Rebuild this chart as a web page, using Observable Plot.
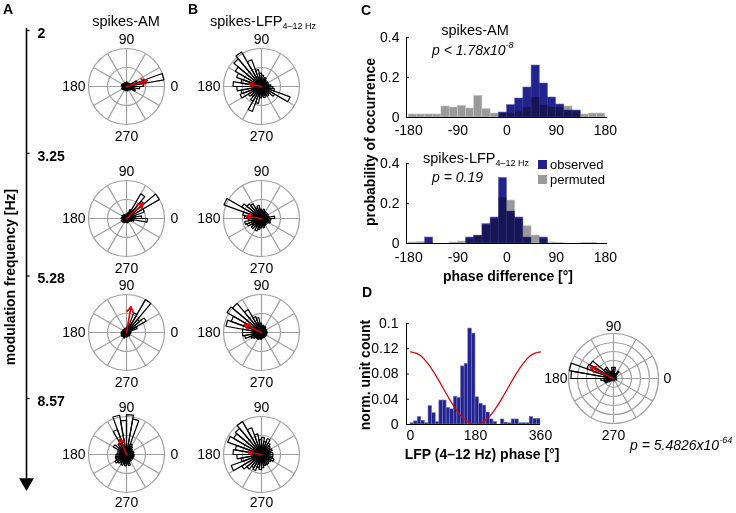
<!DOCTYPE html>
<html>
<head>
<meta charset="utf-8">
<script src="https://cdn.jsdelivr.net/npm/d3@7"></script>
<script src="https://cdn.jsdelivr.net/npm/@observablehq/plot@0.6"></script>
<style>
html,body{margin:0;padding:0;background:#fff;}
#fig{position:relative;width:736px;height:513px;overflow:hidden;background:#fff;}
#fig svg{position:absolute;overflow:visible;background:transparent;max-width:none;}
</style>
</head>
<body>
<div id="fig"></div>
<script>
// ================= DATA =================
const freqLabels = ["2", "3.25", "5.28", "8.57"];
const freqValues = [2, 3.25, 5.28, 8.57];
const polarSpokeAngles = [0, 30, 60, 90, 120, 150, 180, 210, 240, 270, 300, 330];
const polarLabelAngles = [0, 90, 180, 270];
const roseRingsAB = [0.5, 1];
const roseRingsD = [0.2, 0.4, 0.6, 0.8, 1];

// rose petal lengths (fraction of outer ring), 36 bins of 10° from 0°
const roseAM_2 = [0.45,1.0,0.3,0.12,0.1,0.08,0.1,0.07,0.12,0.1,0.08,0.12,0.1,0.08,0.12,0.1,0.14,0.1,0.12,0.1,0.14,0.1,0.12,0.08,0.1,0.12,0.08,0.1,0.12,0.08,0.1,0.12,0.14,0.25,0.2,0.35];
const roseAM_3 = [0.4,0.25,0.5,1.0,0.6,0.75,0.25,0.15,0.1,0.12,0.08,0.1,0.12,0.1,0.14,0.1,0.12,0.14,0.1,0.12,0.15,0.12,0.14,0.1,0.12,0.1,0.08,0.1,0.12,0.1,0.08,0.1,0.12,0.15,0.2,0.55];
const roseAM_5 = [0.1,0.12,0.3,0.6,0.45,1.0,0.55,0.2,0.15,0.12,0.1,0.12,0.1,0.08,0.12,0.1,0.12,0.14,0.12,0.15,0.14,0.16,0.15,0.14,0.16,0.12,0.1,0.12,0.1,0.08,0.1,0.12,0.1,0.08,0.1,0.12];
const roseAM_8 = [0.15,0.2,0.18,0.15,0.2,0.25,0.3,0.95,1.05,0.9,1.05,0.7,0.35,0.25,0.4,0.25,0.2,0.25,0.28,0.3,0.3,0.35,0.3,0.25,0.3,0.25,0.3,0.25,0.3,0.2,0.2,0.15,0.2,0.18,0.2,0.2];
const roseLFP_2 = [0.25,0.2,0.15,0.2,0.15,0.2,0.25,0.2,0.3,0.35,0.45,0.75,1.05,0.95,0.8,0.7,0.55,0.75,0.65,0.55,0.6,0.4,0.35,0.45,0.7,0.45,0.3,0.25,0.3,0.25,0.3,0.25,0.4,0.8,0.35,0.3];
const roseLFP_3 = [0.35,0.2,0.15,0.2,0.15,0.2,0.2,0.25,0.2,0.25,0.35,0.3,0.45,0.5,0.6,1.05,0.5,0.45,0.35,0.45,0.4,0.3,0.35,0.25,0.35,0.3,0.25,0.2,0.25,0.2,0.2,0.15,0.2,0.25,0.2,0.25];
const roseLFP_5 = [0.15,0.12,0.15,0.12,0.15,0.18,0.15,0.2,0.18,0.25,0.4,0.45,0.7,1.0,1.05,0.85,0.95,0.5,0.5,0.45,0.3,0.25,0.2,0.18,0.2,0.15,0.18,0.15,0.12,0.15,0.12,0.15,0.12,0.15,0.12,0.15];
const roseLFP_8 = [0.3,0.25,0.3,0.25,0.3,0.35,0.45,0.35,0.45,0.4,0.55,0.75,1.0,0.9,0.85,0.95,0.7,0.75,0.65,0.55,0.85,0.6,0.5,0.4,0.45,0.35,0.4,0.35,0.3,0.3,0.3,0.25,0.3,0.35,0.3,0.3];
const roseAM = [roseAM_2, roseAM_3, roseAM_5, roseAM_8];
const roseLFP = [roseLFP_2, roseLFP_3, roseLFP_5, roseLFP_8];
// mean resultant vectors: [angle°, length]
const meanAM = [[16, 0.57], [42, 0.6], [80, 0.69], [113, 0.44]];
const meanLFP = [[168, 0.33], [172, 0.42], [155, 0.5], [172, 0.35]];

// Panel C: 15° bins
const phaseBinStart = [-180,-165,-150,-135,-120,-105,-90,-75,-60,-45,-30,-15,0,15,30,45,60,75,90,105,120,135,150,165];
const amObserved  = [0,0,0,0,0,0,0,0,0,0,0,0.025,0.062,0.095,0.15,0.26,0.17,0.1,0.065,0.035,0.035,0,0,0];
const amPermuted  = [0.015,0.015,0.015,0.015,0.055,0.05,0.058,0.045,0.108,0.042,0.02,0.02,0.02,0.03,0.05,0.1,0.06,0.05,0.05,0.055,0.03,0.015,0.02,0.02];
const lfpObserved = [0,0,0.03,0,0,0,0,0.03,0.039,0.097,0.13,0.328,0.16,0.13,0.03,0,0.03,0,0,0,0,0,0,0];
const lfpPermuted = [0.005,0.008,0.005,0,0,0.005,0.01,0.02,0.04,0.09,0.12,0.228,0.215,0.12,0.086,0.04,0.02,0.005,0.003,0,0,0.003,0.003,0];
const cTicksX = [-180, -90, 0, 90, 180];
const cTicksY = [0, 0.2, 0.4];

// Panel D: 10° bins of LFP phase
const lfpPhaseBinStart = [0,10,20,30,40,50,60,70,80,90,100,110,120,130,140,150,160,170,180,190,200,210,220,230,240,250,260,270,280,290,300,310,320,330,340,350];
const unitCount = [0.002,0.005,0.012,0.006,0.002,0.029,0.018,0.004,0.038,0.038,0.026,0.024,0.044,0.042,0.092,0.096,0.152,0.144,0.043,0.033,0.030,0.019,0.008,0.004,0.0,0.008,0.003,0.002,0.008,0.008,0.002,0.002,0.002,0.012,0.009,0.009];
const lfpWavePhase = [0,15,30,45,60,75,90,105,120,135,150,165,180,195,210,225,240,255,270,285,300,315,330,345,360];
const lfpWaveValue = [0.115,0.113,0.108,0.099,0.087,0.073,0.058,0.043,0.029,0.017,0.008,0.002,0,0.002,0.008,0.017,0.029,0.043,0.058,0.073,0.087,0.099,0.108,0.113,0.115];
const dTicksY = [0, 0.04, 0.08, 0.12, 0.16];
const dTickLabelsY = ["0", "0.04", "0.08", "0.12", "0.1"];
const dTicksX = [0, 180, 360];
const dMean = [154, 0.57];

// ================= STYLE / LAYOUT =================
const FONT = '"Liberation Sans", Arial, Helvetica, sans-serif';
const NAVY = "#23238f";
const GRAY = "#9a9a9a";
const GRID = "#a0a0a0";
const RED = "#e00000";
const rad = Math.PI / 180;
const fig = document.getElementById("fig");
function put(svg, left, top) { svg.style.left = left + "px"; svg.style.top = top + "px"; fig.appendChild(svg); }
const baseStyle = {fontFamily: FONT, fontSize: "14px", background: "transparent", overflow: "visible", color: "black"};

// ================= POLAR (rose) =================
function polar(rose, mean, {cx, cy, R, rings, gaps, showZero = true, norm = 1}) {
  const S = 180, half = S / 2 / R, bw = 360 / rose.length;
  const petals = rose.flatMap((v0, i) => {
    const v = v0 / norm, a1 = i * bw * rad, a2 = (i + 1) * bw * rad;
    return [{i, x: 0, y: 0}, {i, x: v * Math.cos(a1), y: v * Math.sin(a1)},
            {i, x: v * Math.cos(a2), y: v * Math.sin(a2)}, {i, x: 0, y: 0}];
  });
  const spec = {
    0: {textAnchor: "start", dx: gaps.r},
    90: {lineAnchor: "bottom", dy: -gaps.t},
    180: {textAnchor: "end", dx: -gaps.l},
    270: {lineAnchor: "top", dy: gaps.b}
  };
  const labels = polarLabelAngles.filter(a => showZero || a !== 0).map(a =>
    Plot.text([a], {x: d => Math.round(Math.cos(d * rad)), y: d => Math.round(Math.sin(d * rad)),
      text: d => String(d), fontSize: 14, fill: "black", ...spec[a]}));
  const svg = Plot.plot({
    width: S, height: S, margin: 0,
    x: {domain: [-half, half], axis: null},
    y: {domain: [-half, half], axis: null},
    style: baseStyle,
    marks: [
      ...rings.map(k => Plot.dot([0], {x: 0, y: 0, r: k * R, stroke: GRID, strokeWidth: 1.2, fill: "none"})),
      Plot.link(polarSpokeAngles, {x1: 0, y1: 0, x2: a => Math.cos(a * rad), y2: a => Math.sin(a * rad), stroke: GRID, strokeWidth: 1.2}),
      Plot.line(petals, {x: "x", y: "y", z: "i", stroke: "black", strokeWidth: 1.2, strokeLinejoin: "miter"}),
      Plot.arrow([mean], {x1: 0, y1: 0, x2: m => m[1] * Math.cos(m[0] * rad), y2: m => m[1] * Math.sin(m[0] * rad),
        stroke: RED, strokeWidth: 1.6, headLength: 6}),
      ...labels
    ]
  });
  put(svg, cx - S / 2, cy - S / 2);
}

const rowCY = [86, 218, 332, 454];
const colCX = [126, 261];
rowCY.forEach((cy, r) => {
  const gaps = {t: 5, b: r === 3 ? 5 : 7, l: 3, r: 6};
  polar(roseAM[r], meanAM[r], {cx: colCX[0], cy, R: 38, rings: roseRingsAB, gaps});
  polar(roseLFP[r], meanLFP[r], {cx: colCX[1], cy, R: 38, rings: roseRingsAB, gaps, showZero: false});
});
polar(unitCount, dMean, {cx: 613, cy: 378, R: 45, rings: roseRingsD, gaps: {t: 3, b: 7, l: 1, r: 5}, norm: d3.max(unitCount)});

// ================= LEFT FREQUENCY AXIS (log-spaced frequencies) =================
put(Plot.plot({
  width: 70, height: 500, marginTop: 28, marginBottom: 18, marginLeft: 26, marginRight: 14,
  x: {domain: [0, 1], axis: null},
  y: {type: "log", domain: [freqValues[0], freqValues[3]], range: [30, 398], axis: null},
  style: baseStyle,
  marks: [
    Plot.ruleX([0], {stroke: "black", strokeWidth: 1.6}),
    Plot.dot([0], {x: d => d, frameAnchor: "bottom", symbol: "triangle", r: 5.5, fill: "black", stroke: "none", rotate: 180}),
    Plot.ruleY(freqValues, {x1: 0, x2: 0.12, stroke: "black", strokeWidth: 1.2}),
    Plot.text(freqValues, {x: 0, y: d => d, text: (d, i) => freqLabels[i], dx: 11, dy: 3, textAnchor: "start",
      fontWeight: "bold", fontSize: 14, fill: "black"})
  ]
}), 0, 0);

// ================= PANEL C =================
function cHist(top, obs, perm, mt, mb, padX) {
  const data = phaseBinStart.map((lo, i) => ({lo, hi: lo + 15, obs: obs[i], perm: perm[i]}));
  const svg = Plot.plot({
    width: 265, height: 125, marginLeft: 46, marginRight: 18, marginTop: mt, marginBottom: mb,
    x: {domain: [-184, 184]}, y: {domain: [0, 0.4]},
    style: baseStyle,
    marks: [
      Plot.rectY(data, {x1: "lo", x2: "hi", y1: 0, y2: "perm", fill: GRAY, stroke: "#c4c4c4", strokeWidth: 0.6}),
      Plot.rectY(data, {x1: "lo", x2: "hi", y1: 0, y2: "obs", fill: NAVY, stroke: "#6a6ab8", strokeWidth: 0.6, mixBlendMode: "multiply"}),
      Plot.ruleY([0], {stroke: "black", strokeWidth: 1}),
      Plot.ruleX([-184], {y1: 0, y2: 0.4, stroke: "black", strokeWidth: 1}),
      Plot.ruleY(cTicksY, {x1: -184, x2: -179, stroke: "black"}),
      Plot.axisY({ticks: cTicksY, tickSize: 0, tickPadding: 7, tickFormat: d => String(d), label: null, fontSize: 14}),
      Plot.axisX({ticks: cTicksX, tickSize: 0, tickPadding: padX, tickFormat: d => String(d), label: null, fontSize: 14})
    ]
  });
  put(svg, 360, top);
}
cHist(20, amObserved, amPermuted, 17, 28, 8);
cHist(145, lfpObserved, lfpPermuted, 18, 27, 9);

// ================= PANEL D histogram =================
{
  const data = lfpPhaseBinStart.map((lo, i) => ({lo, hi: lo + 10, v: unitCount[i]}));
  const wave = lfpWavePhase.map((p, i) => ({p, v: lfpWaveValue[i]}));
  const lab = new Map(dTicksY.map((t, i) => [t, dTickLabelsY[i]]));
  put(Plot.plot({
    width: 200, height: 150, marginLeft: 46, marginRight: 20, marginTop: 23, marginBottom: 26,
    x: {domain: [-11, 360]}, y: {domain: [0, 0.16]},
    style: baseStyle,
    marks: [
      Plot.rectY(data, {x1: "lo", x2: "hi", y1: 0, y2: "v", fill: NAVY, stroke: "#7a7ac4", strokeWidth: 0.6}),
      Plot.line(wave, {x: "p", y: "v", stroke: RED, strokeWidth: 1.2, curve: "natural"}),
      Plot.ruleY([0], {stroke: "black"}),
      Plot.ruleX([-11], {y1: 0, y2: 0.16, stroke: "black"}),
      Plot.ruleY(dTicksY, {x1: -11, x2: -3, stroke: "black"}),
      Plot.axisY({ticks: dTicksY, tickSize: 0, tickPadding: 8, tickFormat: d => lab.get(d), label: null, fontSize: 14}),
      Plot.axisX({ticks: dTicksX, tickSize: 0, tickPadding: 6, tickFormat: d => String(d), label: null, fontSize: 14})
    ]
  }), 360, 300);
}

// ================= TEXT OVERLAY =================
const ov = d3.select(fig).append("svg").attr("width", 736).attr("height", 513)
  .style("left", "0px").style("top", "0px").attr("font-family", FONT);
function txt(x, y, parts, {anchor = "start", weight = "normal", style = "normal", size = 14, rotate = 0} = {}) {
  const t = ov.append("text").attr("x", x).attr("y", y).attr("text-anchor", anchor)
    .attr("font-weight", weight).attr("font-style", style).attr("font-size", size).attr("fill", "black");
  if (rotate) t.attr("transform", `rotate(${rotate},${x},${y})`);
  let shift = 0;
  for (const p of (Array.isArray(parts) ? parts : [parts])) {
    const q = typeof p === "string" ? {t: p} : p;
    const target = q.sub ? 3 : q.sup ? -7 : 0;
    const s = t.append("tspan").attr("dy", target - shift).text(q.t);
    if (q.sub || q.sup) s.attr("font-size", 9);
    shift = target;
  }
}
txt(3, 14, "A", {weight: "bold"});
txt(188, 14, "B", {weight: "bold"});
txt(361, 15, "C", {weight: "bold"});
txt(362, 297, "D", {weight: "bold"});
txt(126, 26, "spikes-AM", {anchor: "middle", size: 14.5});
txt(210, 26, ["spikes-LFP", {t: "4–12 Hz", sub: true}], {size: 14.5});
txt(15, 277, "modulation frequency [Hz]", {anchor: "middle", weight: "bold", rotate: -90});
txt(475, 35, "spikes-AM", {anchor: "middle", size: 14.5});
txt(432, 55, ["p < 1.78x10", {t: "-8", sup: true}], {style: "italic"});
txt(423, 163, ["spikes-LFP", {t: "4–12 Hz", sub: true}], {size: 14.5});
txt(432, 182, "p = 0.19", {style: "italic"});
ov.append("rect").attr("x", 538).attr("y", 160).attr("width", 9).attr("height", 9).attr("fill", NAVY);
ov.append("rect").attr("x", 538).attr("y", 175).attr("width", 9).attr("height", 9).attr("fill", GRAY);
txt(550, 169, "observed", {size: 13});
txt(550, 184, "permuted", {size: 13});
txt(375, 142, "probability of occurrence", {anchor: "middle", weight: "bold", rotate: -90});
txt(508, 281, "phase difference [°]", {anchor: "middle", weight: "bold"});
txt(370, 375, "norm. unit count", {anchor: "middle", weight: "bold", rotate: -90});
txt(482, 459, "LFP (4–12 Hz) phase [°]", {anchor: "middle", weight: "bold"});
txt(630, 450, ["p = 5.4826x10", {t: "-64", sup: true}], {style: "italic"});
</script>
</body>
</html>
